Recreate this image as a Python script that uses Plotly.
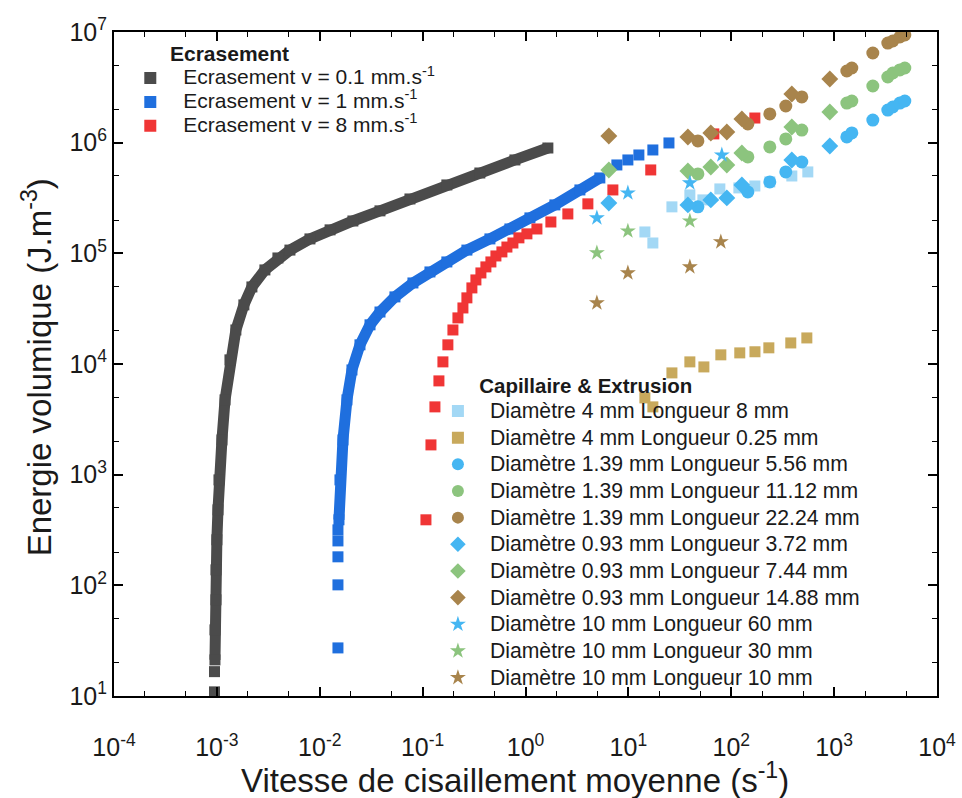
import plotly.graph_objects as go

# ---------------- Data ----------------
# Ecrasement v = 0.1 mm/s
ec01_x = [9.48e-4, 9.48e-4, 9.58e-4, 9.58e-4, 9.8e-4, 9.8e-4, 1.0e-3, 1.025e-3, 1.048e-3,
          1.12e-3, 1.2e-3, 1.34e-3, 1.53e-3, 1.83e-3, 2.19e-3, 2.93e-3, 3.92e-3, 5.13e-3,
          8.03e-3, 1.26e-2, 2.1e-2, 3.85e-2, 7.53e-2, 0.172, 0.36, 0.789, 1.65]
ec01_y = [10.9, 16.6, 21.2, 39.6, 74, 138, 258, 481, 897,
          2060, 4740, 1.09e4, 2.03e4, 3.42e4, 4.97e4, 7.08e4, 9.08e4, 1.07e5,
          1.35e5, 1.63e5, 1.96e5, 2.42e5, 3.1e5, 4.15e5, 5.32e5, 6.98e5, 8.95e5]

# Ecrasement v = 1 mm/s
ec1_x = [0.01503, 0.01503, 0.01503, 0.01503, 0.01503, 0.01537, 0.01572, 0.01681, 0.01838,
         0.02056, 0.0246, 0.0308, 0.0385, 0.0538, 0.0805, 0.1178, 0.172, 0.2694, 0.451,
         0.705, 1.104, 1.93, 3.38, 5.28, 7.73, 9.89, 12.65, 17.3, 24.8]
ec1_y = [27.2, 101, 181, 252, 317, 391, 897, 2060, 4740,
         8840, 1.49e4, 2.26e4, 2.95e4, 4.04e4, 5.4e4, 6.79e4, 8.36e4, 1.07e5, 1.35e5,
         1.66e5, 2.09e5, 2.74e5, 3.74e5, 4.8e5, 6.29e5, 6.98e5, 7.74e5, 8.59e5, 9.94e5]

# Ecrasement v = 8 mm/s
ec8_x = [0.1077, 0.1205, 0.1317, 0.144, 0.1575, 0.176, 0.197, 0.2204, 0.2465, 0.2694,
         0.3013, 0.3296, 0.3686, 0.4122, 0.461, 0.5157, 0.5898, 0.6596, 0.7544, 0.863,
         1.032, 1.291, 1.765, 2.58, 4.04, 7.07, 16.5, 67.7, 169.6]
ec8_y = [391, 1858, 4098, 7037, 1.045e4, 1.49e4, 2.03e4, 2.61e4, 3.21e4, 3.96e4,
         4.87e4, 5.75e4, 6.65e4, 7.54e4, 8.36e4, 9.47e4, 1.03e5, 1.14e5, 1.24e5, 1.38e5,
         1.5e5, 1.66e5, 1.92e5, 2.27e5, 2.8e5, 3.74e5, 5.67e5, 1.2e6, 1.67e6]

# Capillaire & Extrusion
d4_l8_x = [14.47, 17.3, 26.5, 39.6, 53.0, 77.5, 118.6, 169.6, 237, 388, 555]
d4_l8_y = [1.56e5, 1.24e5, 2.63e5, 3.37e5, 3.04e5, 3.82e5, 3.9e5, 4.06e5, 4.42e5, 5.0e5, 5.44e5]

d4_l025_x = [14.47, 17.3, 26.5, 39.6, 54.2, 79.2, 121, 170, 232, 379, 543]
d4_l025_y = [4940, 4098, 8310, 1.045e4, 9410, 1.21e4, 1.26e4, 1.29e4, 1.4e4, 1.55e4, 1.72e4]

d139_x = [47.4, 145, 237, 339, 485, 1329, 1486, 2377, 3325, 3720, 4350, 4865]
d139_l556_y = [2.63e5, 3.59e5, 4.42e5, 5.44e5, 6.69e5, 1.126e6, 1.224e6, 1.6e6, 1.97e6, 2.1e6, 2.28e6, 2.38e6]
d139_l1112_y = [5.22e5, 7.43e5, 9.15e5, 1.08e6, 1.3e6, 2.28e6, 2.38e6, 3.25e6, 3.92e6, 4.26e6, 4.54e6, 4.73e6]
d139_l2224_y = [1.036e6, 1.475e6, 1.82e6, 2.145e6, 2.59e6, 4.44e6, 4.73e6, 6.46e6, 7.95e6, 8.29e6, 9.01e6, 9.4e6]

d093_x = [6.46, 37.9, 63.3, 90.6, 126.8, 388, 908]
d093_l372_y = [2.85e5, 2.74e5, 3.04e5, 3.17e5, 4.15e5, 6.98e5, 9.33e5]
d093_l744_y = [5.67e5, 5.55e5, 6.03e5, 6.29e5, 8.07e5, 1.386e6, 1.89e6]
d093_l1488_y = [1.15e6, 1.126e6, 1.224e6, 1.25e6, 1.64e6, 2.75e6, 3.76e6]

d10_l60_x = [4.94, 9.89, 39.6, 81.0]
d10_l60_y = [2.09e5, 3.51e5, 4.33e5, 7.74e5]
d10_l30_x = [4.94, 9.89, 39.6]
d10_l30_y = [1.01e5, 1.59e5, 1.96e5]
d10_l10_x = [4.94, 9.89, 39.6, 79.2]
d10_l10_y = [3.56e4, 6.65e4, 7.54e4, 1.27e5]

x_tick_vals = [1e-4, 1e-3, 1e-2, 1e-1, 1, 10, 100, 1000, 1e4]
x_tick_text = ["10<sup>-4</sup>", "10<sup>-3</sup>", "10<sup>-2</sup>", "10<sup>-1</sup>",
               "10<sup>0</sup>", "10<sup>1</sup>", "10<sup>2</sup>", "10<sup>3</sup>", "10<sup>4</sup>"]
y_tick_vals = [1e1, 1e2, 1e3, 1e4, 1e5, 1e6, 1e7]
y_tick_text = ["10<sup>1</sup>", "10<sup>2</sup>", "10<sup>3</sup>", "10<sup>4</sup>",
               "10<sup>5</sup>", "10<sup>6</sup>", "10<sup>7</sup>"]

# ---------------- Styles ----------------
GREY = "#4b4b4b"
BLUE = "#1f6fde"
RED = "#f03535"
LIGHT = "#a3d8f5"
SKY = "#45b6f2"
GREEN = "#8cc47e"
BROWN = "#a8844c"
TAN = "#c8a95c"
FONT = "Arial, Liberation Sans, sans-serif"
TXT = "#1a1a1a"
NB = "\u00a0"

def lbl(text, px):
    return "<span style='font-size:%spx'>%s</span>" % (px, text)

fig = go.Figure()

# continuous bands behind the dense crushing curves
fig.add_trace(go.Scatter(x=ec01_x[2:], y=ec01_y[2:], mode="lines",
                         line=dict(color=GREY, width=11), showlegend=False, hoverinfo="skip"))
fig.add_trace(go.Scatter(x=ec1_x[5:24], y=ec1_y[5:24], mode="lines",
                         line=dict(color=BLUE, width=11), showlegend=False, hoverinfo="skip"))

def sq(name, x, y, color, size):
    return go.Scatter(x=x, y=y, mode="markers", name=lbl(name, 21), legend="legend",
                      marker=dict(symbol="square", color=color, size=size, line=dict(width=0)))

fig.add_trace(sq("Ecrasement v = 0.1 mm.s<sup>-1</sup>", ec01_x, ec01_y, GREY, 11))
fig.add_trace(sq("Ecrasement v = 1 mm.s<sup>-1</sup>", ec1_x, ec1_y, BLUE, 11))
fig.add_trace(sq("Ecrasement v = 8 mm.s<sup>-1</sup>", ec8_x, ec8_y, RED, 11))

def mk(name, x, y, color, symbol, size):
    return go.Scatter(x=x, y=y, mode="markers", name=lbl(name, 21.2), legend="legend2",
                      marker=dict(symbol=symbol, color=color, size=size, line=dict(width=0)))

fig.add_trace(mk("Diamètre 4 mm Longueur 8 mm", d4_l8_x, d4_l8_y, LIGHT, "square", 11))
fig.add_trace(mk("Diamètre 4 mm Longueur 0.25 mm", d4_l025_x, d4_l025_y, TAN, "square", 11))
fig.add_trace(mk("Diamètre 1.39 mm Longueur 5.56 mm", d139_x, d139_l556_y, SKY, "circle", 13))
fig.add_trace(mk("Diamètre 1.39 mm Longueur 11.12 mm", d139_x, d139_l1112_y, GREEN, "circle", 13))
fig.add_trace(mk("Diamètre 1.39 mm Longueur 22.24 mm", d139_x, d139_l2224_y, BROWN, "circle", 13))
fig.add_trace(mk("Diamètre 0.93 mm Longueur 3.72 mm", d093_x, d093_l372_y, SKY, "diamond", 13))
fig.add_trace(mk("Diamètre 0.93 mm Longueur 7.44 mm", d093_x, d093_l744_y, GREEN, "diamond", 13))
fig.add_trace(mk("Diamètre 0.93 mm Longueur 14.88 mm", d093_x, d093_l1488_y, BROWN, "diamond", 13))
fig.add_trace(mk("Diamètre 10 mm Longueur 60 mm", d10_l60_x, d10_l60_y, SKY, "star", 12))
fig.add_trace(mk("Diamètre 10 mm Longueur 30 mm", d10_l30_x, d10_l30_y, GREEN, "star", 12))
fig.add_trace(mk("Diamètre 10 mm Longueur 10 mm", d10_l10_x, d10_l10_y, BROWN, "star", 12))

axis_common = dict(
    type="log", showline=True, linewidth=2, linecolor="black", mirror="allticks",
    ticks="inside", ticklen=9, tickwidth=1.5, tickcolor="black",
    showgrid=False, zeroline=False, ticklabeloverflow="allow",
    tickfont=dict(size=25, family=FONT, color=TXT),
    minor=dict(ticks="inside", ticklen=5, tickwidth=1.2, tickcolor="black", showgrid=False),
)

fig.update_layout(
    width=962, height=798,
    margin=dict(l=114, r=25, t=32, b=102),
    paper_bgcolor="white", plot_bgcolor="white",
    font=dict(family=FONT, color=TXT),
    xaxis=dict(range=[-4, 4], tickvals=x_tick_vals, ticktext=x_tick_text,
               ticklabelstandoff=28, automargin=False, **axis_common),
    yaxis=dict(range=[1, 7], tickvals=y_tick_vals, ticktext=y_tick_text,
               automargin=False, **axis_common),
    annotations=[
        dict(text="Energie volumique (J.m<sup>-3</sup>)", textangle=-90,
             xref="paper", yref="paper", x=-0.0935, y=0.495,
             xanchor="center", yanchor="middle", showarrow=False,
             font=dict(size=33, family=FONT, color=TXT)),
        dict(text="Vitesse de cisaillement moyenne (s<sup>-1</sup>)",
             xref="paper", yref="paper", x=0.487, y=-0.123,
             xanchor="center", yanchor="middle", showarrow=False,
             font=dict(size=33, family=FONT, color=TXT)),
        dict(text="<b>Ecrasement</b>",
             xref="paper", yref="paper", x=0.0656, y=0.967,
             xanchor="left", yanchor="middle", showarrow=False,
             font=dict(size=21, family=FONT, color=TXT)),
    ],
    legend=dict(x=0.004, y=0.956, xanchor="left", yanchor="top",
                bgcolor="rgba(0,0,0,0)", font=dict(size=16, family=FONT, color=TXT),
                itemwidth=56, itemsizing="constant", tracegroupgap=0),
    legend2=dict(x=0.379, y=0.496, xanchor="left", yanchor="top",
                 bgcolor="rgba(0,0,0,0)", font=dict(size=18.2, family=FONT, color=TXT),
                 title=dict(text=lbl(NB * 9 + "<b>Capillaire & Extrusion</b>", 20.5),
                            font=dict(size=20, family=FONT, color=TXT)),
                 itemwidth=54, itemsizing="constant", tracegroupgap=0),
)

fig.write_html("out.html", config={"displayModeBar": False},
               post_script="document.body.style.margin='0px';")
